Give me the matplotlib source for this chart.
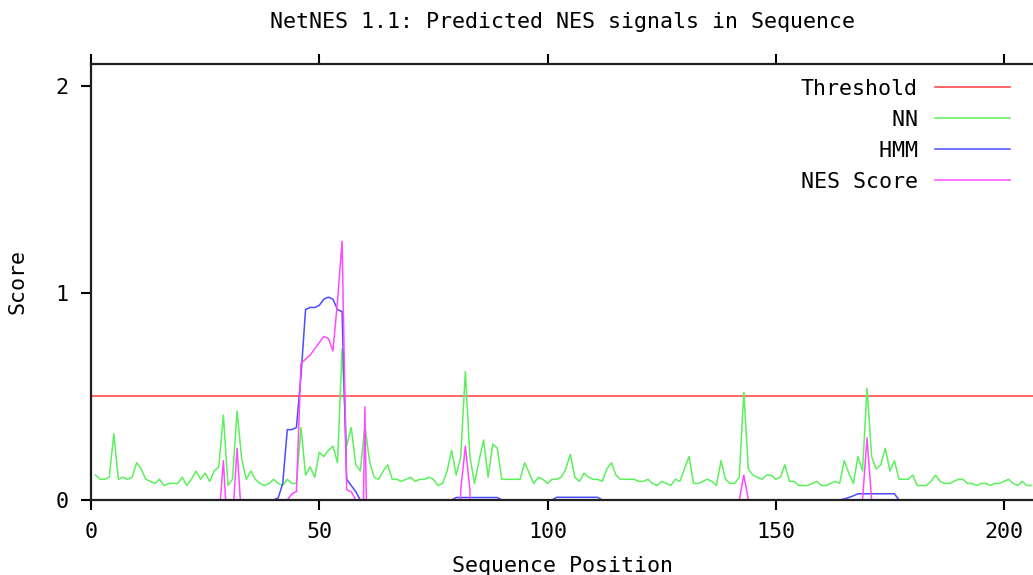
import matplotlib
matplotlib.use("Agg")
import matplotlib.pyplot as plt

# NetNES 1.1 prediction per residue (positions 1..206)
positions = list(range(1, 207))

nn_scores = [
    0.12, 0.10, 0.10, 0.11, 0.32, 0.10, 0.11, 0.10, 0.11, 0.18,
    0.15, 0.10, 0.09, 0.08, 0.10, 0.07, 0.08, 0.08, 0.08, 0.11,
    0.07, 0.10, 0.14, 0.10, 0.13, 0.09, 0.14, 0.16, 0.41, 0.07,
    0.10, 0.43, 0.20, 0.10, 0.14, 0.10, 0.08, 0.07, 0.08, 0.10,
    0.08, 0.07, 0.10, 0.08, 0.08, 0.35, 0.12, 0.16, 0.11, 0.23,
    0.21, 0.24, 0.26, 0.18, 0.73, 0.26, 0.35, 0.17, 0.14, 0.36,
    0.19, 0.11, 0.10, 0.14, 0.17, 0.10, 0.10, 0.09, 0.10, 0.11,
    0.09, 0.10, 0.10, 0.11, 0.10, 0.07, 0.08, 0.14, 0.24, 0.12,
    0.21, 0.62, 0.21, 0.08, 0.19, 0.29, 0.11, 0.27, 0.25, 0.10,
    0.10, 0.10, 0.10, 0.10, 0.18, 0.13, 0.08, 0.11, 0.10, 0.08,
    0.10, 0.10, 0.11, 0.15, 0.22, 0.11, 0.09, 0.13, 0.11, 0.10,
    0.10, 0.09, 0.15, 0.18, 0.12, 0.10, 0.10, 0.10, 0.10, 0.09,
    0.09, 0.10, 0.08, 0.07, 0.09, 0.08, 0.07, 0.10, 0.09, 0.15,
    0.21, 0.08, 0.08, 0.09, 0.10, 0.09, 0.07, 0.19, 0.10, 0.08,
    0.08, 0.11, 0.52, 0.15, 0.12, 0.11, 0.10, 0.12, 0.12, 0.10,
    0.11, 0.17, 0.09, 0.09, 0.07, 0.07, 0.07, 0.08, 0.09, 0.07,
    0.07, 0.08, 0.09, 0.08, 0.19, 0.13, 0.08, 0.21, 0.14, 0.54,
    0.21, 0.15, 0.17, 0.25, 0.14, 0.19, 0.10, 0.10, 0.10, 0.12,
    0.07, 0.07, 0.07, 0.09, 0.12, 0.09, 0.08, 0.08, 0.09, 0.10,
    0.10, 0.08, 0.08, 0.07, 0.08, 0.08, 0.07, 0.08, 0.08, 0.09,
    0.10, 0.08, 0.07, 0.09, 0.07, 0.07,
]

hmm_scores = [
    0, 0, 0, 0, 0, 0, 0, 0, 0, 0,
    0, 0, 0, 0, 0, 0, 0, 0, 0, 0,
    0, 0, 0, 0, 0, 0, 0, 0, 0, 0,
    0, 0, 0, 0, 0, 0, 0, 0, 0, 0,
    0.01, 0.08, 0.34, 0.34, 0.35, 0.60, 0.92, 0.93, 0.93, 0.94,
    0.97, 0.98, 0.97, 0.92, 0.91, 0.10, 0.07, 0.04, 0, 0,
    0, 0, 0, 0, 0, 0, 0, 0, 0, 0,
    0, 0, 0, 0, 0, 0, 0, 0, 0, 0.012,
    0.012, 0.012, 0.012, 0.012, 0.012, 0.012, 0.012, 0.012, 0.012, 0,
    0, 0, 0, 0, 0, 0, 0, 0, 0, 0,
    0, 0.013, 0.013, 0.013, 0.013, 0.013, 0.013, 0.013, 0.013, 0.013,
    0.013, 0, 0, 0, 0, 0, 0, 0, 0, 0,
    0, 0, 0, 0, 0, 0, 0, 0, 0, 0,
    0, 0, 0, 0, 0, 0, 0, 0, 0, 0,
    0, 0, 0, 0, 0, 0, 0, 0, 0, 0,
    0, 0, 0, 0, 0, 0, 0, 0, 0, 0,
    0, 0, 0, 0, 0.005, 0.012, 0.02, 0.03, 0.03, 0.03,
    0.03, 0.03, 0.03, 0.03, 0.03, 0.03, 0, 0, 0, 0,
    0, 0, 0, 0, 0, 0, 0, 0, 0, 0,
    0, 0, 0, 0, 0, 0, 0, 0, 0, 0,
    0, 0, 0, 0, 0, 0,
]

# NES score is below zero (off the chart) for most residues
nes_scores = [
    -1, -1, -1, -1, -1, -1, -1, -1, -1, -1,
    -1, -1, -1, -1, -1, -1, -1, -1, -1, -1,
    -1, -1, -1, -1, -1, -1, -1, -0.1, 0.19, -0.2,
    -0.1, 0.25, -0.1, -1, -1, -1, -1, -1, -1, -1,
    -1, -1, 0.0, 0.03, 0.04, 0.66, 0.68, 0.70, 0.73, 0.76,
    0.79, 0.78, 0.72, 0.96, 1.25, 0.05, 0.04, 0.0, -1, 0.45,
    -1, -1, -1, -1, -1, -1, -1, -1, -1, -1,
    -1, -1, -1, -1, -1, -1, -1, -1, -1, -1,
    0.05, 0.26, 0.05, -1, -1, -1, -1, -1, -1, -1,
    -1, -1, -1, -1, -1, -1, -1, -1, -1, -1,
    -1, -1, -1, -1, -1, -1, -1, -1, -1, -1,
    -1, -1, -1, -1, -1, -1, -1, -1, -1, -1,
    -1, -1, -1, -1, -1, -1, -1, -1, -1, -1,
    -1, -1, -1, -1, -1, -1, -1, -1, -1, -1,
    -1, 0.0, 0.12, 0.0, -1, -1, -1, -1, -1, -1,
    -1, -1, -1, -1, -1, -1, -1, -1, -1, -1,
    -1, -1, -1, -1, -1, -1, -1, -1, 0.0, 0.30,
    0.0, -1, -1, -1, -1, -1, -1, -1, -1, -1,
    -1, -1, -1, -1, -1, -1, -1, -1, -1, -1,
    -1, -1, -1, -1, -1, -1, -1, -1, -1, -1,
    -1, -1, -1, -1, -1, -1,
]

threshold = 0.5
x_ticks = [0, 50, 100, 150, 200]
y_ticks = [0, 1, 2]

plt.rcParams['font.family'] = ['DejaVu Sans Mono']
plt.rcParams['font.size'] = 15.6

fig = plt.figure(figsize=(10.33, 5.75), dpi=100)
ax = fig.add_axes([91 / 1033, 75 / 575, 942 / 1033, 436 / 575])

ax.axhline(threshold, color='#ff5c5c', linewidth=1.3, label='Threshold')
ax.plot(positions, nn_scores, color='#5cf05c', linewidth=1.1, label='       NN')
ax.plot(positions, hmm_scores, color='#4b4bff', linewidth=1.1, label='      HMM')
ax.plot(positions, nes_scores, color='#ff4bff', linewidth=1.1, label='NES Score')

ax.set_xlim(0, 206.35)
ax.set_ylim(0, 2.106)
ax.set_xticks(x_ticks)
ax.set_yticks(y_ticks)
ax.tick_params(direction='out', length=7, width=1.5, top=True, right=False,
               pad=9, colors='black')

for side in ['left', 'bottom', 'top']:
    ax.spines[side].set_linewidth(1.6)
    ax.spines[side].set_color('#202020')
    ax.spines[side].set_zorder(5)
ax.spines['right'].set_visible(False)

ax.set_title('NetNES 1.1: Predicted NES signals in Sequence', fontsize=15.6,
             y=1.083, pad=0)
ax.set_xlabel('Sequence Position')
ax.xaxis.set_label_coords(0.5, -0.128)
ax.set_ylabel('Score')
ax.yaxis.set_label_coords(-0.067, 0.5)

leg = ax.legend(loc='upper right', bbox_to_anchor=(1010 / 1033, 1 - 79 / 575),
                bbox_transform=fig.transFigure, frameon=False, markerfirst=False,
                handlelength=3.45, handletextpad=0.8, labelspacing=0.5,
                borderpad=0, borderaxespad=0)

plt.savefig('out.png', dpi=100)
